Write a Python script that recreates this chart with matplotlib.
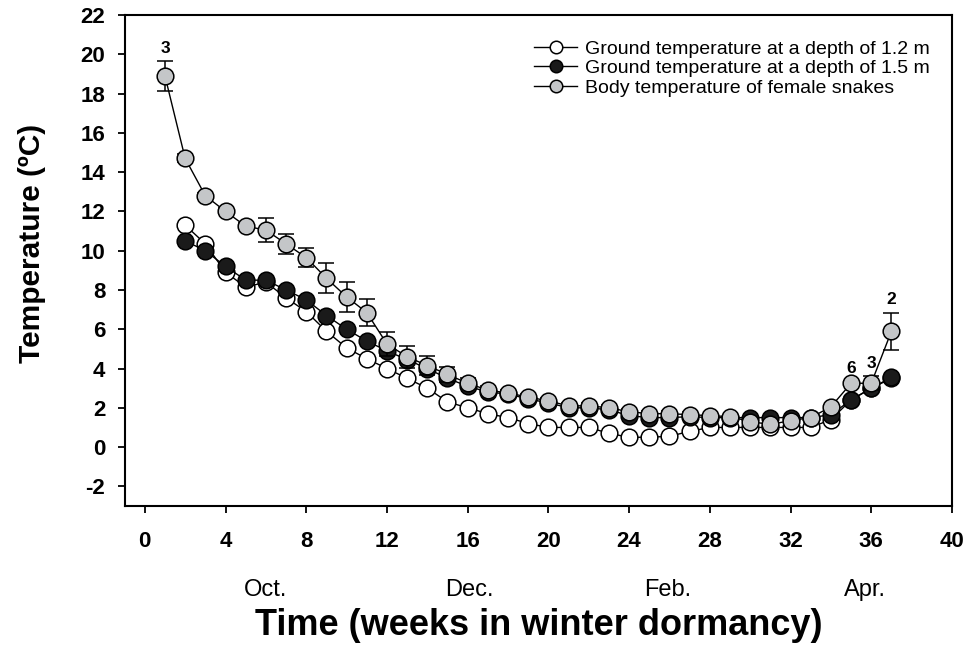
import numpy as np
import matplotlib
matplotlib.use("Agg")
import matplotlib.pyplot as plt

plt.rcParams['font.family'] = ['Liberation Sans', 'DejaVu Sans']
plt.rcParams['axes.unicode_minus'] = False

# weeks in winter dormancy
weeks_body = np.arange(1, 38)
weeks_ground = np.arange(2, 38)

# ground temperature at 1.2 m
ground_12 = [11.3, 10.35, 8.9, 8.15, 8.4, 7.6, 6.9, 5.9, 5.05, 4.5, 4.0, 3.5,
             3.0, 2.3, 2.0, 1.7, 1.5, 1.2, 1.0, 1.0, 1.0, 0.7, 0.5, 0.5, 0.55,
             0.8, 1.0, 1.0, 1.0, 1.0, 1.0, 1.0, 1.4, 2.4, 3.0, 3.5]
# ground temperature at 1.5 m
ground_15 = [10.5, 10.0, 9.2, 8.5, 8.5, 8.0, 7.5, 6.7, 6.0, 5.4, 4.9, 4.45,
             4.0, 3.5, 3.1, 2.8, 2.7, 2.45, 2.25, 2.0, 2.0, 1.9, 1.6, 1.5, 1.5,
             1.55, 1.5, 1.5, 1.5, 1.5, 1.5, 1.5, 1.65, 2.4, 3.0, 3.55]
# body temperature of female snakes (mean and SE)
body = [18.9, 14.7, 12.8, 12.0, 11.25, 11.05, 10.35, 9.65, 8.6, 7.65, 6.85,
        5.25, 4.6, 4.15, 3.7, 3.25, 2.9, 2.75, 2.55, 2.35, 2.1, 2.1, 2.0, 1.8,
        1.7, 1.7, 1.65, 1.6, 1.55, 1.3, 1.15, 1.35, 1.5, 2.05, 3.25, 3.25, 5.9]
body_se = [0.75, 0.2, 0.15, 0.15, 0.15, 0.6, 0.5, 0.5, 0.75, 0.75, 0.7,
           0.6, 0.55, 0.48, 0.38, 0.25, 0.2, 0.15, 0.15, 0.15, 0.15, 0.15,
           0.15, 0.15, 0.15, 0.15, 0.15, 0.1, 0.1, 0.1, 0.1, 0.1, 0.1, 0.1,
           0.1, 0.35, 0.95]

# sample sizes written above some points
n_weeks = [1, 35, 36, 37]
n_labels = ['3', '6', '3', '2']

months = ['Oct.', 'Dec.', 'Feb.', 'Apr.']
month_pos = [6.0, 16.1, 25.9, 35.7]

fig = plt.figure(figsize=(9.66, 6.55), dpi=100)
ax = fig.add_axes([0.129, 0.2275, 0.8565, 0.7495])

ms = 12
ax.plot(weeks_ground, ground_12, '-o', color='black', lw=1, ms=ms,
        mfc='white', mec='black', mew=1.1, zorder=3,
        label='Ground temperature at a depth of 1.2 m')
ax.plot(weeks_ground, ground_15, '-o', color='black', lw=1, ms=ms,
        mfc='#1a1a1a', mec='black', mew=1.1, zorder=4,
        label='Ground temperature at a depth of 1.5 m')
ax.errorbar(weeks_body, body, yerr=body_se, fmt='none', ecolor='black',
            elinewidth=1.1, capsize=5.6, capthick=1.1, zorder=5)
ax.plot(weeks_body, body, '-o', color='black', lw=1, ms=ms,
        mfc='#c4c6c8', mec='black', mew=1.1, zorder=6,
        label='Body temperature of female snakes')

for w, t in zip(n_weeks, n_labels):
    i = w - 1
    ax.annotate(t, (w, body[i] + body_se[i]), xytext=(0, 4),
                textcoords='offset points', ha='center', va='bottom',
                fontsize=12.5, fontweight='bold')

ax.set_xlim(-1, 40)
ax.set_ylim(-3, 22)
ax.set_xticks(np.arange(0, 41, 4))
ax.set_yticks(np.arange(-2, 23, 2))
ax.tick_params(direction='out', length=5, width=1.3, labelsize=16)
ax.tick_params(axis='x', pad=13)
ax.tick_params(axis='y', pad=9)
for lab in ax.get_xticklabels() + ax.get_yticklabels():
    lab.set_fontweight('bold')
for sp in ax.spines.values():
    sp.set_linewidth(1.5)

for m, p in zip(months, month_pos):
    ax.text(p, -0.171, m, transform=ax.get_xaxis_transform(),
            ha='center', va='center', fontsize=17)

ax.set_xlabel('Time (weeks in winter dormancy)', fontsize=26, fontweight='bold')
ax.xaxis.set_label_coords(0.5, -0.207)
ax.xaxis.label.set_va('top')
ax.set_ylabel('Temperature (ºC)', fontsize=21.5, fontweight='bold')
ax.yaxis.set_label_coords(-0.095, 0.535)

ax.legend(loc='upper right', frameon=False, fontsize=14, handlelength=2.2,
          handletextpad=0.4, labelspacing=0.1, markerscale=0.75,
          bbox_to_anchor=(0.994, 0.985))

fig.savefig('out.png', dpi=100)
